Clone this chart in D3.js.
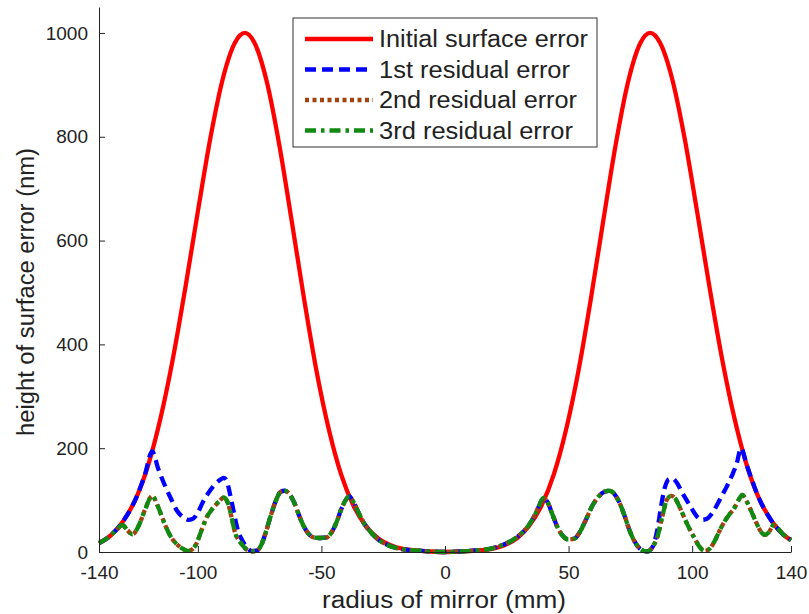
<!DOCTYPE html>
<html>
<head>
<meta charset="utf-8">
<script src="https://cdn.jsdelivr.net/npm/d3@7"></script>
<style>
body{margin:0;background:#fff;}
text{font-family:"Liberation Sans",Arial,sans-serif;}
</style>
</head>
<body>
<script>
//series: [radius (mm), height (nm)]
var initialError=[[-140,17],[-135,33],[-130,61],[-125,104],[-120,169],[-115,260],[-110,375],[-105,511],[-100,656],[-95,796],[-90,910],[-85,981],[-81,1000],[-77,980],[-72,904],[-67,783],[-62,637],[-57,487],[-52,349],[-47,236],[-42,149],[-37,89],[-32,50],[-27,26],[-22,13],[-17,6],[-12,3],[-6,1],[0,0],[6,1],[14,3],[19,6],[24,13],[29,26],[34,50],[39,89],[44,149],[49,236],[54,349],[59,487],[64,637],[69,783],[74,904],[79,980],[83,1000],[87,981],[92,910],[97,796],[102,656],[107,511],[112,375],[117,260],[122,169],[127,104],[132,61],[137,33],[140,23]];

var firstResidual=[[-140,17],[-135,33],[-130,61],[-125,104],[-121.5,148],[-118.5,194],[-116,160],[-113.5,130],[-111,104],[-108.5,80],[-106,67],[-104,62],[-102,64],[-100,76],[-98,96],[-96,112],[-93.5,128],[-91,139],[-89.5,143],[-88.3,137],[-87,112],[-85.5,78],[-84,45],[-82,22],[-80,8],[-78.3,2],[-76,3],[-74.5,12],[-72.5,38],[-70.5,70],[-68.5,98],[-66.5,116],[-65,118],[-63,112],[-61,95],[-59,70],[-57,48],[-55,34],[-53,28],[-50.5,27],[-48,28],[-46,37],[-44,56],[-42,82],[-40.2,100],[-38.7,107],[-37,96],[-35,76],[-33,57],[-30,38],[-27,24],[-23,13],[-18,6],[-12,3],[-6,1],[0,0],[6,1],[12,3],[18,6],[23,13],[27,22],[30,32],[33,46],[36,68],[38,88],[39.8,104],[41.5,96],[43.5,72],[45.5,48],[47.5,32],[50,24],[52.5,26],[54.5,38],[57,62],[59.5,88],[62,106],[64.5,116],[66.5,118],[68.5,112],[70.5,96],[72.5,72],[74.5,44],[76.5,22],[78.5,8],[80.5,2],[82,1],[84,10],[86,45],[87.5,90],[89,125],[90.5,140],[92,142],[94,132],[96,114],[98,98],[100,82],[102,68],[104,62],[106,64],[108,74],[110,90],[112,108],[114,126],[116,146],[118,170],[119.8,200],[122,169],[127,104],[132,61],[137,33],[140,23]];

var secondResidual=[[-140,17],[-136,29],[-133,42],[-130.5,52],[-128.5,42],[-126.5,34],[-124,50],[-121.5,80],[-118.5,108],[-116,86],[-113.5,55],[-111,30],[-108.5,15],[-106,6],[-104,2],[-102,6],[-100.5,17],[-98.5,42],[-96.5,66],[-94,84],[-91.5,97],[-89.5,105],[-88,96],[-86.5,70],[-85,38],[-83,20],[-81,8],[-78.5,1],[-76,3],[-74.5,12],[-72.5,38],[-70.5,70],[-68.5,98],[-66.5,116],[-65,118],[-63,112],[-61,95],[-59,70],[-57,48],[-55,34],[-53,28],[-50.5,27],[-48,28],[-46,37],[-44,56],[-42,82],[-40.2,100],[-38.7,107],[-37,96],[-35,76],[-33,57],[-30,38],[-27,24],[-23,13],[-18,6],[-12,3],[-6,1],[0,0],[6,1],[12,3],[18,6],[23,13],[27,22],[30,32],[33,46],[36,68],[38,88],[39.8,104],[41.5,96],[43.5,72],[45.5,48],[47.5,32],[50,24],[52.5,26],[54.5,38],[57,62],[59.5,88],[62,106],[64.5,116],[66.5,118],[68.5,112],[70.5,96],[72.5,72],[74.5,44],[76.5,22],[78.5,8],[80.5,2],[82,1],[84,10],[86,30],[88,70],[89.7,100],[91.5,108],[93,104],[95,86],[97,64],[99,44],[101,26],[103,10],[105,2],[107,6],[109,20],[111,40],[113,58],[115,72],[117,84],[119,102],[120.2,110],[122,98],[124,78],[126,56],[128,38],[129.5,33],[131,38],[133,52],[137,33],[140,23]];

var thirdResidual=[[-140,17],[-136,29],[-133,42],[-130.5,52],[-128.5,42],[-126.5,34],[-124,50],[-121.5,80],[-118.5,108],[-116,86],[-113.5,55],[-111,30],[-108.5,15],[-106,6],[-104,2],[-102,6],[-100.5,17],[-98.5,42],[-96.5,66],[-94,84],[-91.5,97],[-89.5,105],[-88,96],[-86.5,70],[-85,38],[-83,20],[-81,8],[-78.5,1],[-76,3],[-74.5,12],[-72.5,38],[-70.5,70],[-68.5,98],[-66.5,116],[-65,118],[-63,112],[-61,95],[-59,70],[-57,48],[-55,34],[-53,28],[-50.5,27],[-48,28],[-46,37],[-44,56],[-42,82],[-40.2,100],[-38.7,107],[-37,96],[-35,76],[-33,57],[-30,38],[-27,24],[-23,13],[-18,6],[-12,3],[-6,1],[0,0],[6,1],[12,3],[18,6],[23,13],[27,22],[30,32],[33,46],[36,68],[38,88],[39.8,104],[41.5,96],[43.5,72],[45.5,48],[47.5,32],[50,24],[52.5,26],[54.5,38],[57,62],[59.5,88],[62,106],[64.5,116],[66.5,118],[68.5,112],[70.5,96],[72.5,72],[74.5,44],[76.5,22],[78.5,8],[80.5,2],[82,1],[84,10],[86,30],[88,70],[89.7,100],[91.5,108],[93,104],[95,86],[97,64],[99,44],[101,26],[103,10],[105,2],[107,6],[109,20],[111,40],[113,58],[115,72],[117,84],[119,102],[120.2,110],[122,98],[124,78],[126,56],[128,38],[129.5,33],[131,38],[133,52],[137,33],[140,23]];

var xTicks=[-140,-100,-50,0,50,100,140];
var yTicks=[0,200,400,600,800,1000];
var seriesNames=["Initial surface error","1st residual error","2nd residual error","3rd residual error"];

//frame
var width=809,
	height=614,
	margin={left:99,right:18,top:7,bottom:62};

var svg=d3.select("body")
	.append("svg")
	.attr("width",width)
	.attr("height",height);

var x=d3.scaleLinear()
	.domain([-140,140])
	.range([margin.left,width-margin.right]);

var y=d3.scaleLinear()
	.domain([0,1050])
	.range([height-margin.bottom,margin.top]);

//line styles for each series
var styles=[
	{data:initialError,color:"#ff0000",dash:null},
	{data:firstResidual,color:"#0000ff",dash:"11,6"},
	{data:secondResidual,color:"#a3420c",dash:"4,3.5"},
	{data:thirdResidual,color:"#118a11",dash:"11,5,3.5,5"}
];

var line=d3.line()
	.x(function(d){return x(d[0]);})
	.y(function(d){return y(d[1]);})
	.curve(d3.curveMonotoneX);

svg.selectAll(".series")
	.data(styles)
	.enter()
	.append("path")
	.attr("class","series")
	.attr("fill","none")
	.attr("stroke",function(d){return d.color;})
	.attr("stroke-width",4.3)
	.attr("stroke-dasharray",function(d){return d.dash;})
	.attr("d",function(d){return line(d.data);});

//plain hyphen labels, ticks pointing inward
var plain=function(d){return String(d);};

svg.append("g")
	.attr("transform","translate(0,"+(height-margin.bottom)+")")
	.call(d3.axisBottom(x).tickValues(xTicks).tickFormat(plain).tickSizeInner(-6).tickSizeOuter(0).tickPadding(14));

svg.append("g")
	.attr("transform","translate("+margin.left+",0)")
	.call(d3.axisLeft(y).tickValues(yTicks).tickFormat(plain).tickSizeInner(-6).tickSizeOuter(0).tickPadding(11));

svg.selectAll(".tick text")
	.attr("font-size",19)
	.attr("font-family","Liberation Sans, Arial, sans-serif")
	.attr("fill","#222");

svg.selectAll(".domain, .tick line")
	.attr("stroke","#222");

//axis titles
svg.append("text")
	.attr("x",444)
	.attr("y",608)
	.attr("text-anchor","middle")
	.attr("font-size",23)
	.attr("textLength",244)
	.attr("lengthAdjust","spacingAndGlyphs")
	.attr("fill","#222")
	.text("radius of mirror (mm)");

svg.append("text")
	.attr("transform","translate(34,292) rotate(-90)")
	.attr("text-anchor","middle")
	.attr("font-size",23)
	.attr("textLength",288)
	.attr("lengthAdjust","spacingAndGlyphs")
	.attr("fill","#222")
	.text("height of surface error (nm)");

//legend
var legend=svg.append("g")
	.attr("transform","translate(293,18)");

legend.append("rect")
	.attr("width",304)
	.attr("height",129)
	.attr("fill","#fff")
	.attr("stroke","#333")
	.attr("stroke-width",1);

var legendWidths=[209,191,198,194];

var items=legend.selectAll(".item")
	.data(styles)
	.enter()
	.append("g")
	.attr("class","item")
	.attr("transform",function(d,i){return "translate(0,"+(21+i*30.5)+")";});

items.append("line")
	.attr("x1",12)
	.attr("x2",80)
	.attr("stroke",function(d){return d.color;})
	.attr("stroke-width",4.3)
	.attr("stroke-dasharray",function(d){return d.dash;});

items.append("text")
	.attr("x",86)
	.attr("dy","0.36em")
	.attr("font-size",23)
	.attr("textLength",function(d,i){return legendWidths[i];})
	.attr("lengthAdjust","spacingAndGlyphs")
	.attr("fill","#222")
	.text(function(d,i){return seriesNames[i];});
</script>
</body>
</html>
